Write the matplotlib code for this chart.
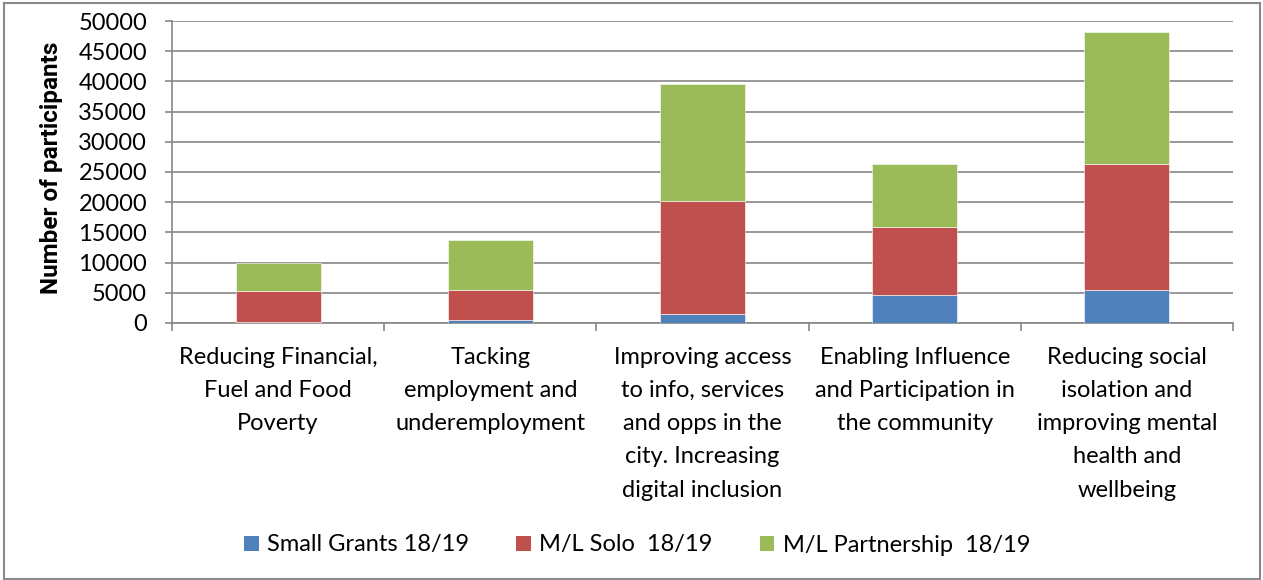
import matplotlib
matplotlib.use("Agg")
import matplotlib.pyplot as plt
from matplotlib.patches import Patch, Rectangle
from matplotlib.ticker import MultipleLocator, FixedLocator
import numpy as np

plt.rcParams['font.family'] = ['Lato', 'DejaVu Sans']

categories = [
    "Reducing Financial,\nFuel and Food\nPoverty",
    "Tacking\nemployment and\nunderemployment",
    "Improving access\nto info, services\nand opps in the\ncity. Increasing\ndigital inclusion",
    "Enabling Influence\nand Participation in\nthe community",
    "Reducing social\nisolation and\nimproving mental\nhealth and\nwellbeing",
]
series_names = ["Small Grants 18/19", "M/L Solo  18/19", "M/L Partnership  18/19"]
small_grants = [200, 450, 1450, 4560, 5450]
ml_solo = [5080, 5050, 18720, 11340, 20880]
ml_partnership = [4700, 8250, 19330, 10380, 21870]
colors = ["#4F81BD", "#C0504D", "#9BBB59"]

grid_gray = "#878787"
fs = 17

fig = plt.figure(figsize=(12.63, 5.80), dpi=100)
ax = fig.add_axes([172 / 1263, 1 - 323 / 580, (1233 - 172) / 1263, (323 - 21) / 580])

x = np.arange(len(categories))
bottom = np.zeros(len(categories))
for vals, col in zip([small_grants, ml_solo, ml_partnership], colors):
    ax.bar(x, vals, width=0.4, bottom=bottom, color=col, edgecolor="white",
           linewidth=0.4, zorder=3)
    bottom += np.array(vals)

ax.set_xlim(-0.5, len(categories) - 0.5)
ax.set_ylim(0, 50000)
ax.yaxis.set_major_locator(MultipleLocator(5000))
ax.grid(axis="y", color=grid_gray, linewidth=1.2, zorder=0)
ax.set_axisbelow(True)

for side in ["top", "right"]:
    ax.spines[side].set_visible(False)
for side in ["left", "bottom"]:
    ax.spines[side].set_color(grid_gray)
    ax.spines[side].set_linewidth(1.2)

ax.set_xticks(x)
ax.set_xticklabels(categories, fontsize=fs, linespacing=1.72)
ax.tick_params(axis="x", which="major", length=0, pad=17)
ax.xaxis.set_minor_locator(FixedLocator(np.arange(-0.5, len(categories), 1.0)))
ax.tick_params(axis="x", which="minor", length=6, color=grid_gray, width=1.2)
ax.tick_params(axis="y", length=5, color=grid_gray, width=1.2, labelsize=fs, pad=13)

ax.set_ylabel("Number of participants", fontsize=17.5, fontweight="bold",
              family=["Roboto", "DejaVu Sans"])
ax.yaxis.set_label_coords(-(172 - 63) / (1233 - 172), 0.515)

handles = [Patch(facecolor=c, edgecolor="none") for c in colors]
fig.legend(handles, series_names, loc="center", ncol=3, frameon=False,
           bbox_to_anchor=(637 / 1263, 1 - 545 / 580), fontsize=fs,
           handlelength=0.62, handleheight=0.62, handletextpad=0.35,
           columnspacing=2.0)

fig.patches.append(Rectangle((4 / 1263, 1.5 / 580), 1256 / 1263, 576 / 580,
                             transform=fig.transFigure, fill=False,
                             edgecolor="#8a8a8a", linewidth=1.5))

fig.savefig("out.png", dpi=100)
